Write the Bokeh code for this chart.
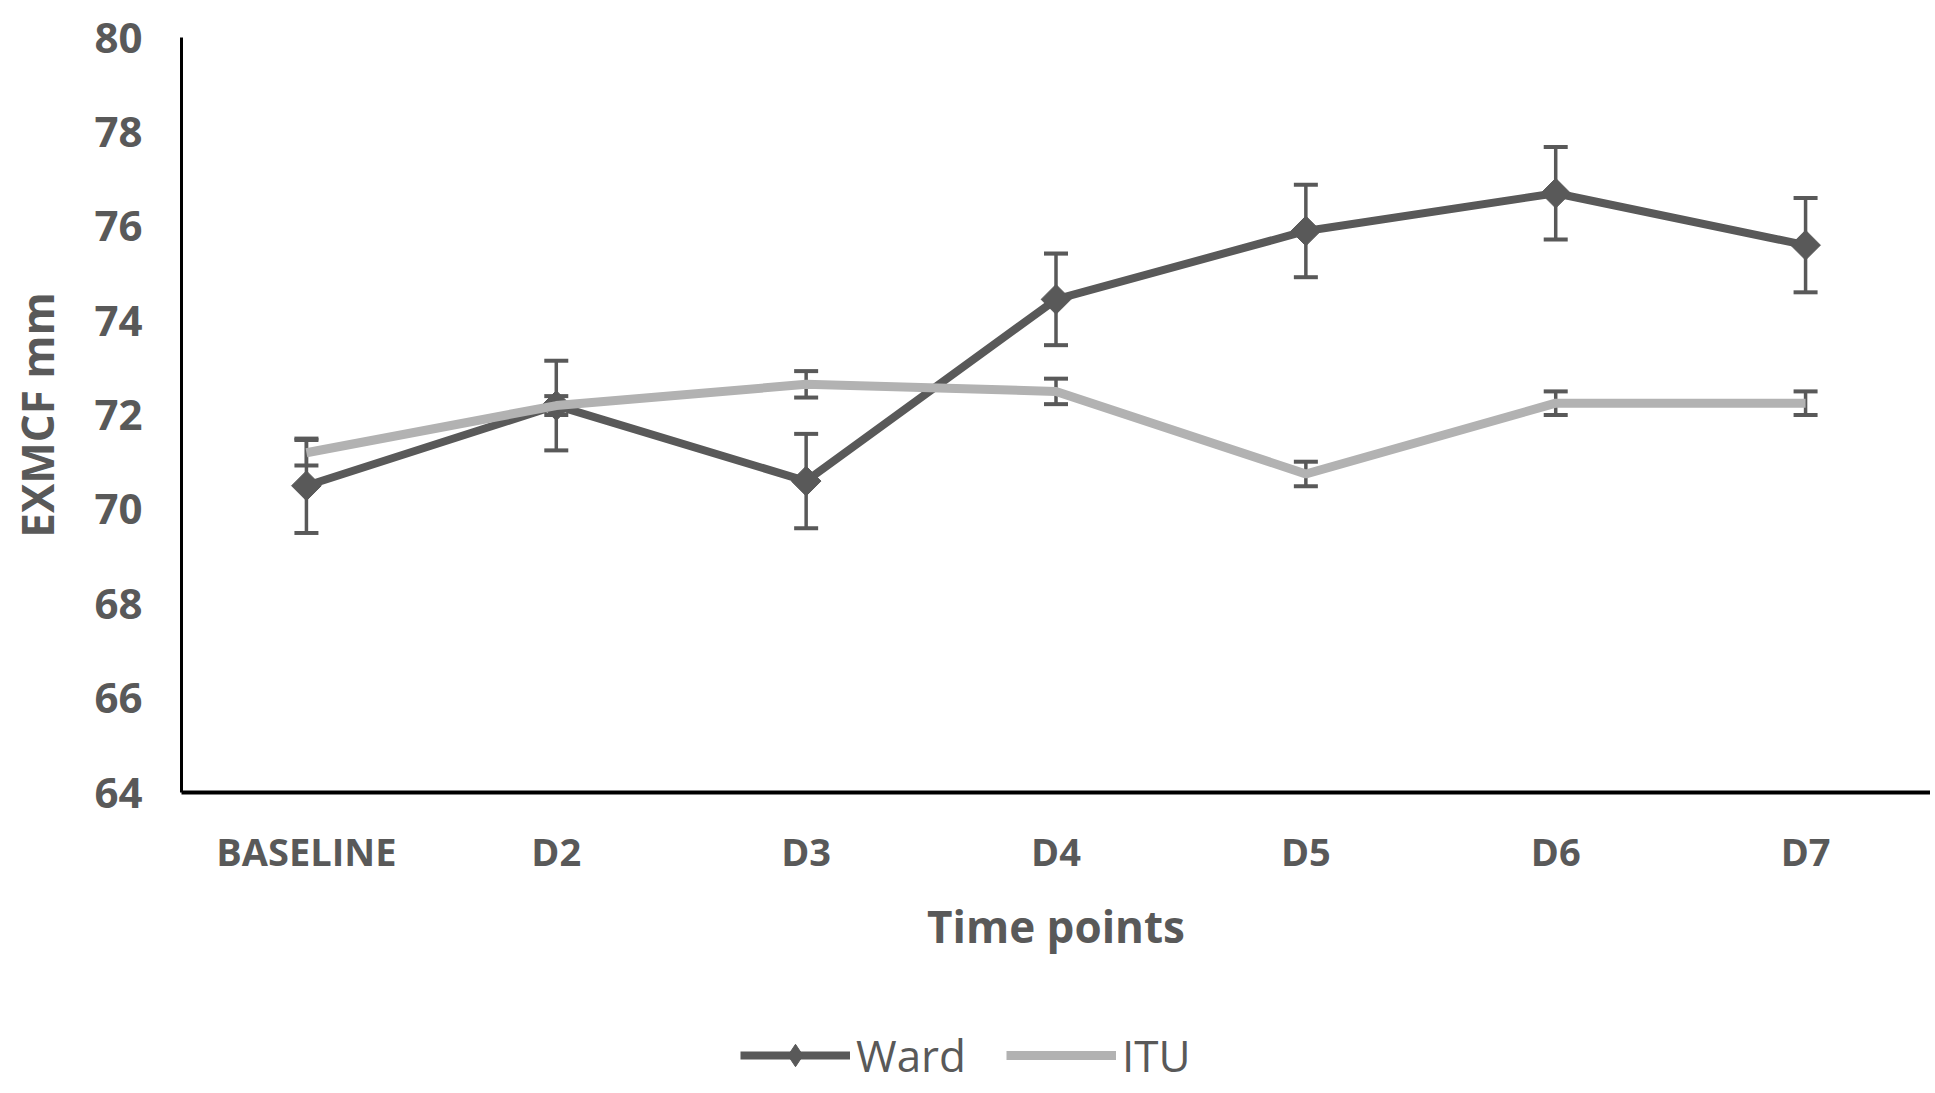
import numpy as np
from bokeh.plotting import figure
from bokeh.layouts import column
from bokeh.models import Legend, LegendItem, FactorRange, Range1d, FixedTicker
from bokeh.embed import file_html
from bokeh.resources import INLINE

categories = ["BASELINE", "D2", "D3", "D4", "D5", "D6", "D7"]
ward = [70.5, 72.2, 70.6, 74.45, 75.9, 76.7, 75.6]
ward_err = [1.0, 0.95, 1.0, 0.97, 0.98, 0.98, 1.0]
itu = [71.2, 72.2, 72.65, 72.5, 70.75, 72.25, 72.25]
itu_err = [0.27, 0.2, 0.28, 0.27, 0.26, 0.25, 0.25]
y_ticks = [64, 66, 68, 70, 72, 74, 76, 78, 80]

WARD_C = "#595959"
ITU_C = "#b2b2b2"
TXT_C = "#595959"
FONT = "Open Sans"
W = 1930

p = figure(width=W, height=1000, x_range=FactorRange(*categories),
           y_range=Range1d(64, 80), output_backend="svg", toolbar_location=None,
           min_border_left=181, min_border_top=37, min_border_right=0,
           min_border_bottom=208)
p.outline_line_color = None
p.xgrid.visible = False
p.ygrid.visible = False

# axes
p.yaxis.ticker = FixedTicker(ticks=y_ticks)
for ax in (p.xaxis[0], p.yaxis[0]):
    ax.major_tick_line_color = None
    ax.minor_tick_line_color = None
    ax.major_tick_out = 0
    ax.major_tick_in = 0
    ax.axis_line_color = "black"
    ax.major_label_text_color = TXT_C
    ax.major_label_text_font = FONT
    ax.major_label_text_font_style = "bold"
    ax.axis_label_text_color = TXT_C
    ax.axis_label_text_font = FONT
    ax.axis_label_text_font_style = "bold"
    ax.axis_label_text_font_size = "44px"

p.yaxis.axis_line_width = 3
p.yaxis.major_label_text_font_size = "42px"
p.yaxis.major_label_standoff = 39
p.yaxis.axis_label = "EXMCF mm"
p.yaxis.axis_label_standoff = 24

p.xaxis.axis_line_width = 4
p.xaxis.major_label_text_font_size = "38px"
p.xaxis.major_label_standoff = 32
p.xaxis.axis_label = "Time points"
p.xaxis.axis_label_standoff = 16

# Ward error bars
wl = [v - e for v, e in zip(ward, ward_err)]
wu = [v + e for v, e in zip(ward, ward_err)]
p.segment(x0=categories, y0=wl, x1=categories, y1=wu, line_color=WARD_C, line_width=3.5)
p.scatter(x=categories * 2, y=wl + wu, marker="dash", size=24, line_color=WARD_C,
          line_width=4)

# Ward line
p.line(x=categories, y=ward, line_color=WARD_C, line_width=8)
p.scatter(x=categories, y=ward, marker="square", angle=np.pi / 4, size=21,
          fill_color=WARD_C, line_color=WARD_C)

# ITU error bars
il = [v - e for v, e in zip(itu, itu_err)]
iu = [v + e for v, e in zip(itu, itu_err)]
p.segment(x0=categories, y0=il, x1=categories, y1=iu, line_color=WARD_C, line_width=3.5)
p.scatter(x=categories * 2, y=il + iu, marker="dash", size=24, line_color=WARD_C,
          line_width=4)

# ITU line
p.line(x=categories, y=itu, line_color=ITU_C, line_width=9)

# legend strip below the chart (key glyphs sit outside the strip's visible range)
lg = figure(width=W, height=85, x_range=Range1d(0, 1), y_range=Range1d(0, 1),
            output_backend="svg", toolbar_location=None,
            min_border_left=181, min_border_right=0, min_border_top=0, min_border_bottom=0)
lg.axis.visible = False
lg.grid.visible = False
lg.outline_line_color = None
key_x = [5, 6]
key_y = [5, 6]
k_wl = lg.line(x=key_x, y=key_y, line_color=WARD_C, line_width=8)
k_wm = lg.scatter(x=key_x, y=key_y, marker="diamond", size=21,
                  fill_color=WARD_C, line_color=WARD_C)
k_il = lg.line(x=key_x, y=key_y, line_color=ITU_C, line_width=9)

legend = Legend(items=[LegendItem(label="Ward", renderers=[k_wl, k_wm]),
                       LegendItem(label="ITU", renderers=[k_il])],
                orientation="horizontal", location=(559, 0),
                glyph_width=110, glyph_height=56, label_standoff=6, spacing=40,
                padding=0, margin=0, border_line_color=None, background_fill_alpha=0,
                label_text_font=FONT, label_text_font_size="44px",
                label_text_color=TXT_C, label_height=56)
lg.add_layout(legend, "center")

layout = column(p, lg, spacing=0)
open("out.html", "w").write(file_html(layout, INLINE))
